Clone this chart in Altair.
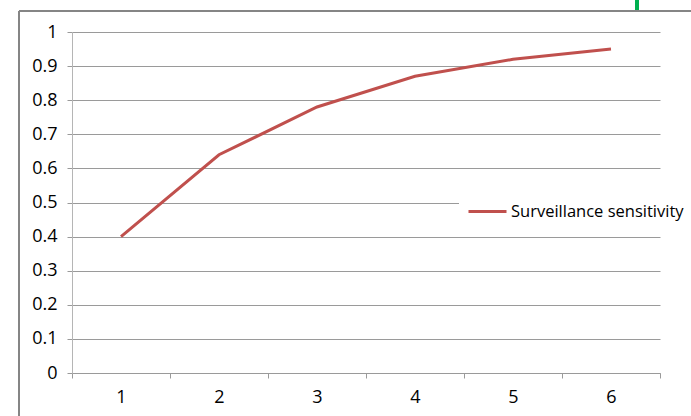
import altair as alt
import pandas as pd

# Surveillance sensitivity by step
steps = [1, 2, 3, 4, 5, 6]
sensitivity = [0.40, 0.64, 0.78, 0.87, 0.92, 0.95]
series_name = "Surveillance sensitivity"
y_ticks = [0, 0.1, 0.2, 0.3, 0.4, 0.5, 0.6, 0.7, 0.8, 0.9, 1]

df = pd.DataFrame({"step": steps, "value": sensitivity, "series": [series_name] * len(steps)})

FONT = "Open Sans"
FS = 18
TXT = "#000000"
GRID = "#9a9a9a"
W, H = 588, 341
PAD = {"left": 72, "top": 32, "right": 31, "bottom": 43}

line = alt.Chart(df).mark_line(strokeWidth=3).encode(
    x=alt.X(
        "step:O",
        scale=alt.Scale(type="band", paddingInner=0, paddingOuter=0),
        axis=alt.Axis(
            title=None, labelAngle=0, tickBand="extent", tickSize=5,
            labelPadding=10, domainColor=GRID, tickColor=GRID, grid=False,
            labelFont=FONT, labelFontSize=FS, labelColor=TXT,
        ),
    ),
    y=alt.Y(
        "value:Q",
        scale=alt.Scale(domain=[0, 1], nice=False),
        axis=alt.Axis(
            title=None, values=y_ticks, format=".1~f", tickSize=5,
            labelPadding=10, grid=True, gridColor=GRID, domainColor="#b5b5b5", tickColor=GRID,
            labelFont=FONT, labelFontSize=FS, labelColor=TXT,
        ),
    ),
    color=alt.Color(
        "series:N",
        scale=alt.Scale(range=["#C0504D"]),
        legend=alt.Legend(
            title=None, orient="none", legendX=387, legendY=162,
            fillColor="white", padding=8, symbolType="stroke",
            symbolSize=1444, symbolStrokeWidth=3, clipHeight=19,
            labelFontSize=16.5, labelFont=FONT, labelColor=TXT, labelOffset=3,
            labelLimit=400,
        ),
    ),
)

one = alt.Data(values=[{}])
frame_top = alt.Chart(one).mark_rule(color="#858585", strokeWidth=2).encode(
    x=alt.value(-53), x2=alt.value(W + PAD["right"]), y=alt.value(-21)
)
frame_left = alt.Chart(one).mark_rule(color="#858585", strokeWidth=2).encode(
    x=alt.value(-53), y=alt.value(-21), y2=alt.value(H + PAD["bottom"])
)
green_mark = alt.Chart(one).mark_rule(color="#00B050", strokeWidth=4).encode(
    x=alt.value(565), y=alt.value(-32), y2=alt.value(-22)
)

chart = (
    alt.layer(line, frame_top, frame_left, green_mark)
    .properties(width=W, height=H, autosize=alt.AutoSizeParams(type="none"), padding=PAD)
    .configure(background="white")
    .configure_view(stroke=None)
)

chart.save("out.html", embed_options={"renderer": "svg", "actions": False})
